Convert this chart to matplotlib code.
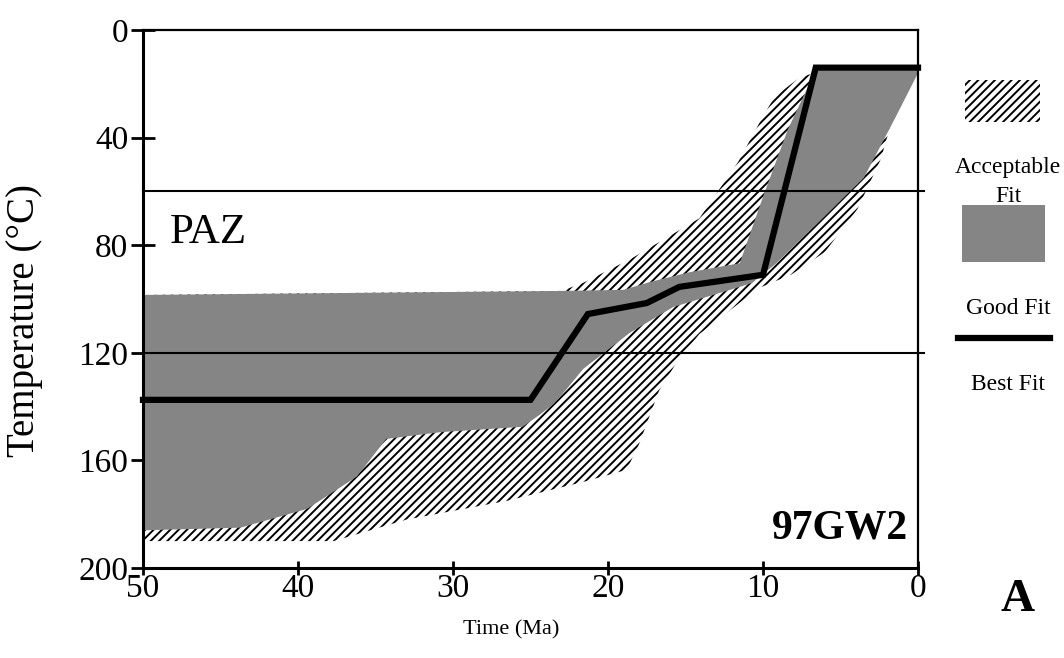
import matplotlib
matplotlib.use("Agg")
import matplotlib.pyplot as plt
from matplotlib.patches import Polygon, Rectangle
from matplotlib.lines import Line2D

plt.rcParams['font.family'] = ['Liberation Serif', 'DejaVu Serif']
plt.rcParams['hatch.linewidth'] = 1.4
plt.rcParams['hatch.color'] = 'black'

# time (Ma) / temperature (degC)
best_time = [50, 25.0, 21.3, 17.5, 15.4, 10.0, 6.6, 0]
best_temp = [137.5, 137.5, 105.6, 101.5, 95.5, 91, 14, 14]

good_time = [50, 23, 19, 17.3, 14.7, 11.5, 10.0, 8.4, 6.6, 0, 0, 1.5, 3.5, 6.5, 9.2,
             10.7, 11.5, 15.8, 18.6, 21.6, 22.6, 23.5, 24.4, 25.5, 30.8, 34.3, 36.2,
             39.4, 43.7, 50]
good_temp = [98.5, 97, 96.6, 93.7, 90, 86.7, 62, 37, 15, 15, 16, 33, 55, 72, 87,
             94, 95.5, 103, 112.6, 126, 133, 139, 143, 147.5, 149.5, 152, 166,
             178, 185, 186]

acc_time = [50, 23, 21.6, 18.5, 14.1, 11.6, 9.9, 9.2, 7.7, 7.0, 0.3, 0.3, 1.4, 2.4,
            3.9, 6.0, 8.2, 10.3, 14.1, 15.4, 16.7, 18, 18.8, 21.6, 26.5, 33, 37.7, 50]
acc_temp = [98.5, 97, 94, 85, 70, 49, 31, 24.5, 18, 16.5, 16.5, 17.5, 28, 48,
            66.5, 82.5, 91, 96, 113, 122, 134, 154, 163.5, 168, 175, 182, 190, 190]

paz_bounds = [60, 120]
x_ticks = [50, 40, 30, 20, 10, 0]
y_ticks = [0, 40, 80, 120, 160, 200]

gray = '#858585'
hatch = '////'

fig = plt.figure(figsize=(10.64, 6.58), dpi=100)
ax = fig.add_axes([0.1344, 0.1368, 0.7284, 0.8176])
ax.set_xlim(50, 0)
ax.set_ylim(200, 0)

ax.add_patch(Polygon(list(zip(acc_time, acc_temp)), closed=True, facecolor='white',
                     edgecolor='black', linewidth=0, hatch=hatch, zorder=1))
ax.add_patch(Polygon(list(zip(good_time, good_temp)), closed=True, facecolor=gray,
                     edgecolor='none', zorder=2))

for t in paz_bounds:
    ax.plot([50, -0.4], [t, t], color='black', lw=1.5, zorder=3, clip_on=False)

ax.plot(best_time, best_temp, color='black', lw=4.5, zorder=4, clip_on=False,
        solid_joinstyle='miter', solid_capstyle='projecting')

ax.text(48.3, 79, 'PAZ', fontsize=31, ha='left', va='baseline')
ax.text(0.65, 189, '97GW2', fontsize=30, fontweight='bold', ha='right', va='baseline')

ax.set_xticks(x_ticks)
ax.set_yticks(y_ticks)
ax.tick_params(axis='y', direction='inout', length=17, width=2, labelsize=24, pad=2)
ax.tick_params(axis='x', direction='inout', length=10, width=2, labelsize=24, pad=-1)
for s in ['left', 'bottom']:
    ax.spines[s].set_linewidth(2.2)
for s in ['top', 'right']:
    ax.spines[s].set_linewidth(1.6)

fig.text(25 / 1064, 1 - 320 / 658, 'Temperature (°C)', fontsize=28, rotation=90,
         ha='center', va='center')
fig.text(511 / 1064, 1 - 630 / 658, 'Time (Ma)', fontsize=16, ha='center', va='center')

# legend on the right
fig.add_artist(Rectangle((965 / 1064, 1 - 122 / 658), 75 / 1064, 42 / 658,
                         transform=fig.transFigure, facecolor='white',
                         edgecolor='black', linewidth=0, hatch=hatch))
fig.text(1008 / 1064, 1 - 168 / 658, 'Acceptable', fontsize=17, ha='center', va='center')
fig.text(1008 / 1064, 1 - 196 / 658, 'Fit', fontsize=17, ha='center', va='center')
fig.add_artist(Rectangle((962 / 1064, 1 - 262 / 658), 83 / 1064, 57 / 658,
                         transform=fig.transFigure, facecolor=gray, edgecolor='none'))
fig.text(1008 / 1064, 1 - 308 / 658, 'Good Fit', fontsize=17, ha='center', va='center')
fig.add_artist(Line2D([958 / 1064, 1050 / 1064], [1 - 338 / 658, 1 - 338 / 658],
                      transform=fig.transFigure, color='black', lw=4.5))
fig.text(1008 / 1064, 1 - 385 / 658, 'Best Fit', fontsize=17, ha='center', va='center')

fig.text(1018 / 1064, 1 - 600 / 658, 'A', fontsize=34, fontweight='bold',
         ha='center', va='center')

fig.savefig('out.png', dpi=100)
